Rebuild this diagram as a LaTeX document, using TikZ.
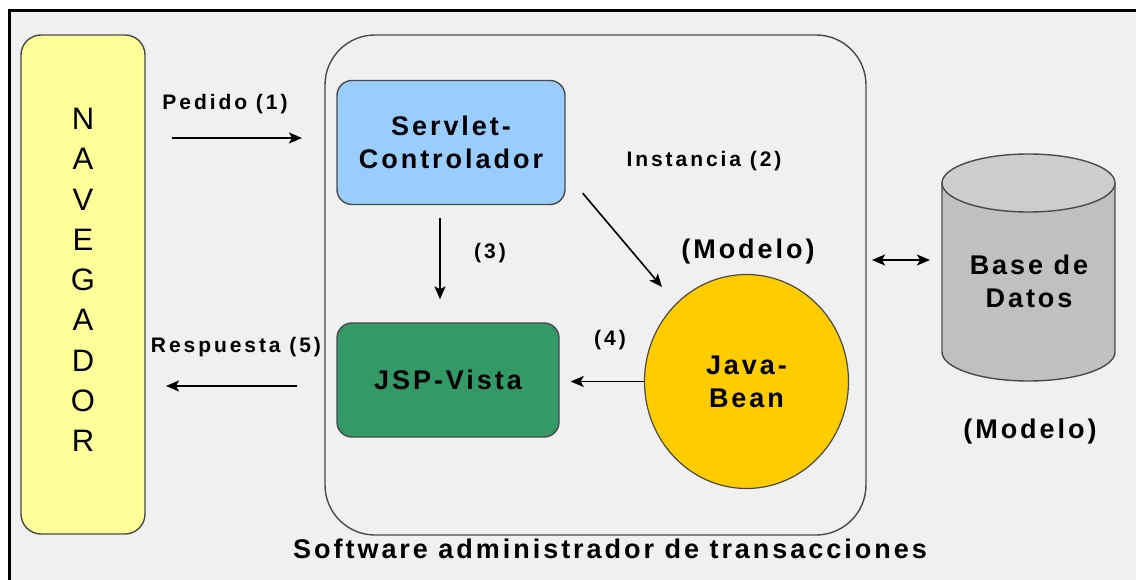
\documentclass[tikz,border=0pt]{standalone}
\usepackage{fontspec}
\setmainfont{Liberation Sans}
\newfontfamily\spacedbox{Liberation Sans}[LetterSpace=11]
\newfontfamily\spacedlbl{Liberation Sans}[LetterSpace=14]
\usetikzlibrary{shapes.geometric,arrows.meta,calc}

\definecolor{panel}{HTML}{F0F0F0}
\definecolor{navfill}{HTML}{FFFF99}
\definecolor{ctlfill}{HTML}{99CCFF}
\definecolor{viewfill}{HTML}{339966}
\definecolor{beanfill}{HTML}{FFCC00}
\definecolor{dbbody}{HTML}{C0C0C0}
\definecolor{dbtop}{HTML}{CDCDCD}
\definecolor{edge}{HTML}{4A4A4A}

\tikzset{
  boxfont/.style={font=\spacedbox\bfseries\fontsize{27}{33}\selectfont},
  lblfont/.style={font=\spacedlbl\bfseries\fontsize{21}{24}\selectfont},
  part/.style={draw=edge, line width=1.4pt, rounded corners=15pt, align=center, boxfont},
  arr/.style={-{Stealth[length=13pt,width=11pt,inset=3pt]}, line width=1.6pt, black},
  biarr/.style={{Stealth[length=13pt,width=11pt,inset=3pt]}-{Stealth[length=13pt,width=11pt,inset=3pt]}, line width=1.6pt, black},
}

\begin{document}
\begin{tikzpicture}[x=1pt,y=-1pt]
\useasboundingbox (0,0) rectangle (1136,580);
\fill[white] (0,0) rectangle (1136,580);
% framed panel
\fill[panel] (9,11) rectangle (1136,580);
\draw[line width=3pt] (9,580) -- (9,11) -- (1136,11);

% browser
\node[draw=edge, line width=1.4pt, fill=navfill, rounded corners=20pt,
      minimum width=124pt, minimum height=499pt] (nav) at (83,284.5) {};
\node[font=\fontsize{31}{40.25}\selectfont, align=center] (navtxt) at (83,280)
  {N\\A\\V\\E\\G\\A\\D\\O\\R};

% application server
\node[draw=edge, line width=1.4pt, rounded corners=50pt,
      minimum width=541pt, minimum height=500pt] (cont) at (595.5,285) {};

\node[part, fill=ctlfill, minimum width=228pt, minimum height=124pt] (servlet)
  at (451,142.5) {Servlet-\\Controlador};
\node[part, fill=viewfill, minimum width=222pt, minimum height=114pt] (jsp)
  at (448,380) {JSP-Vista};
\node[ellipse, draw=edge, line width=1.2pt, fill=beanfill, align=center, boxfont,
      minimum width=204pt, minimum height=214pt, inner sep=0pt] (bean)
  at (746.5,381.5) {Java-\\Bean};
\node[boxfont] (beanlbl) at (748,252) {(Modelo)};

% database cylinder
\fill[dbbody, draw=edge, line width=1.4pt] (942,183) -- (942,352)
  arc[start angle=180, end angle=360, x radius=86.5pt, y radius=29pt]
  -- (1115,183);
\draw[fill=dbtop, draw=edge, line width=1.4pt] (1028.5,183) ellipse[x radius=86.5pt, y radius=29pt];
\node[boxfont, align=center] (db) at (1029,281) {Base de\\Datos};
\node[boxfont] (dblbl) at (1030,432) {(Modelo)};

% request / response
\coordinate (reqstart) at (172,138);
\coordinate (reqend) at (302,138);
\draw[arr] (reqstart) -- (reqend);
\node[lblfont] (reqlbl) at (225,104) {Pedido (1)};

\coordinate (resstart) at (297,386);
\coordinate (resend) at (166,386);
\draw[arr] (resstart) -- (resend);
\node[lblfont] (reslbl) at (236,347) {Respuesta (5)};

% internal flow
\draw[arr] ($(servlet.south)+(-11,13)$) -- ($(jsp.north)+(-8,-23)$);
\node[lblfont] (l3) at (490,253) {(3)};

\draw[arr] ($(servlet.south east)+(17,-12)$) -- ($(bean.center)+(-84.5,-94.5)$);
\node[lblfont] (l2) at (704,161) {Instancia (2)};

\draw[arr] (bean.west) -- ($(bean.west -| jsp.east)+(11,0)$);
\node[lblfont] (l4) at (610,340) {(4)};

% link to the database
\coordinate (contR) at (872,260);
\coordinate (dbL) at (930,260);
\draw[biarr] (contR) -- (dbL);

\node[boxfont] (title) at (610,549) {Software administrador de transacciones};
\end{tikzpicture}
\end{document}
